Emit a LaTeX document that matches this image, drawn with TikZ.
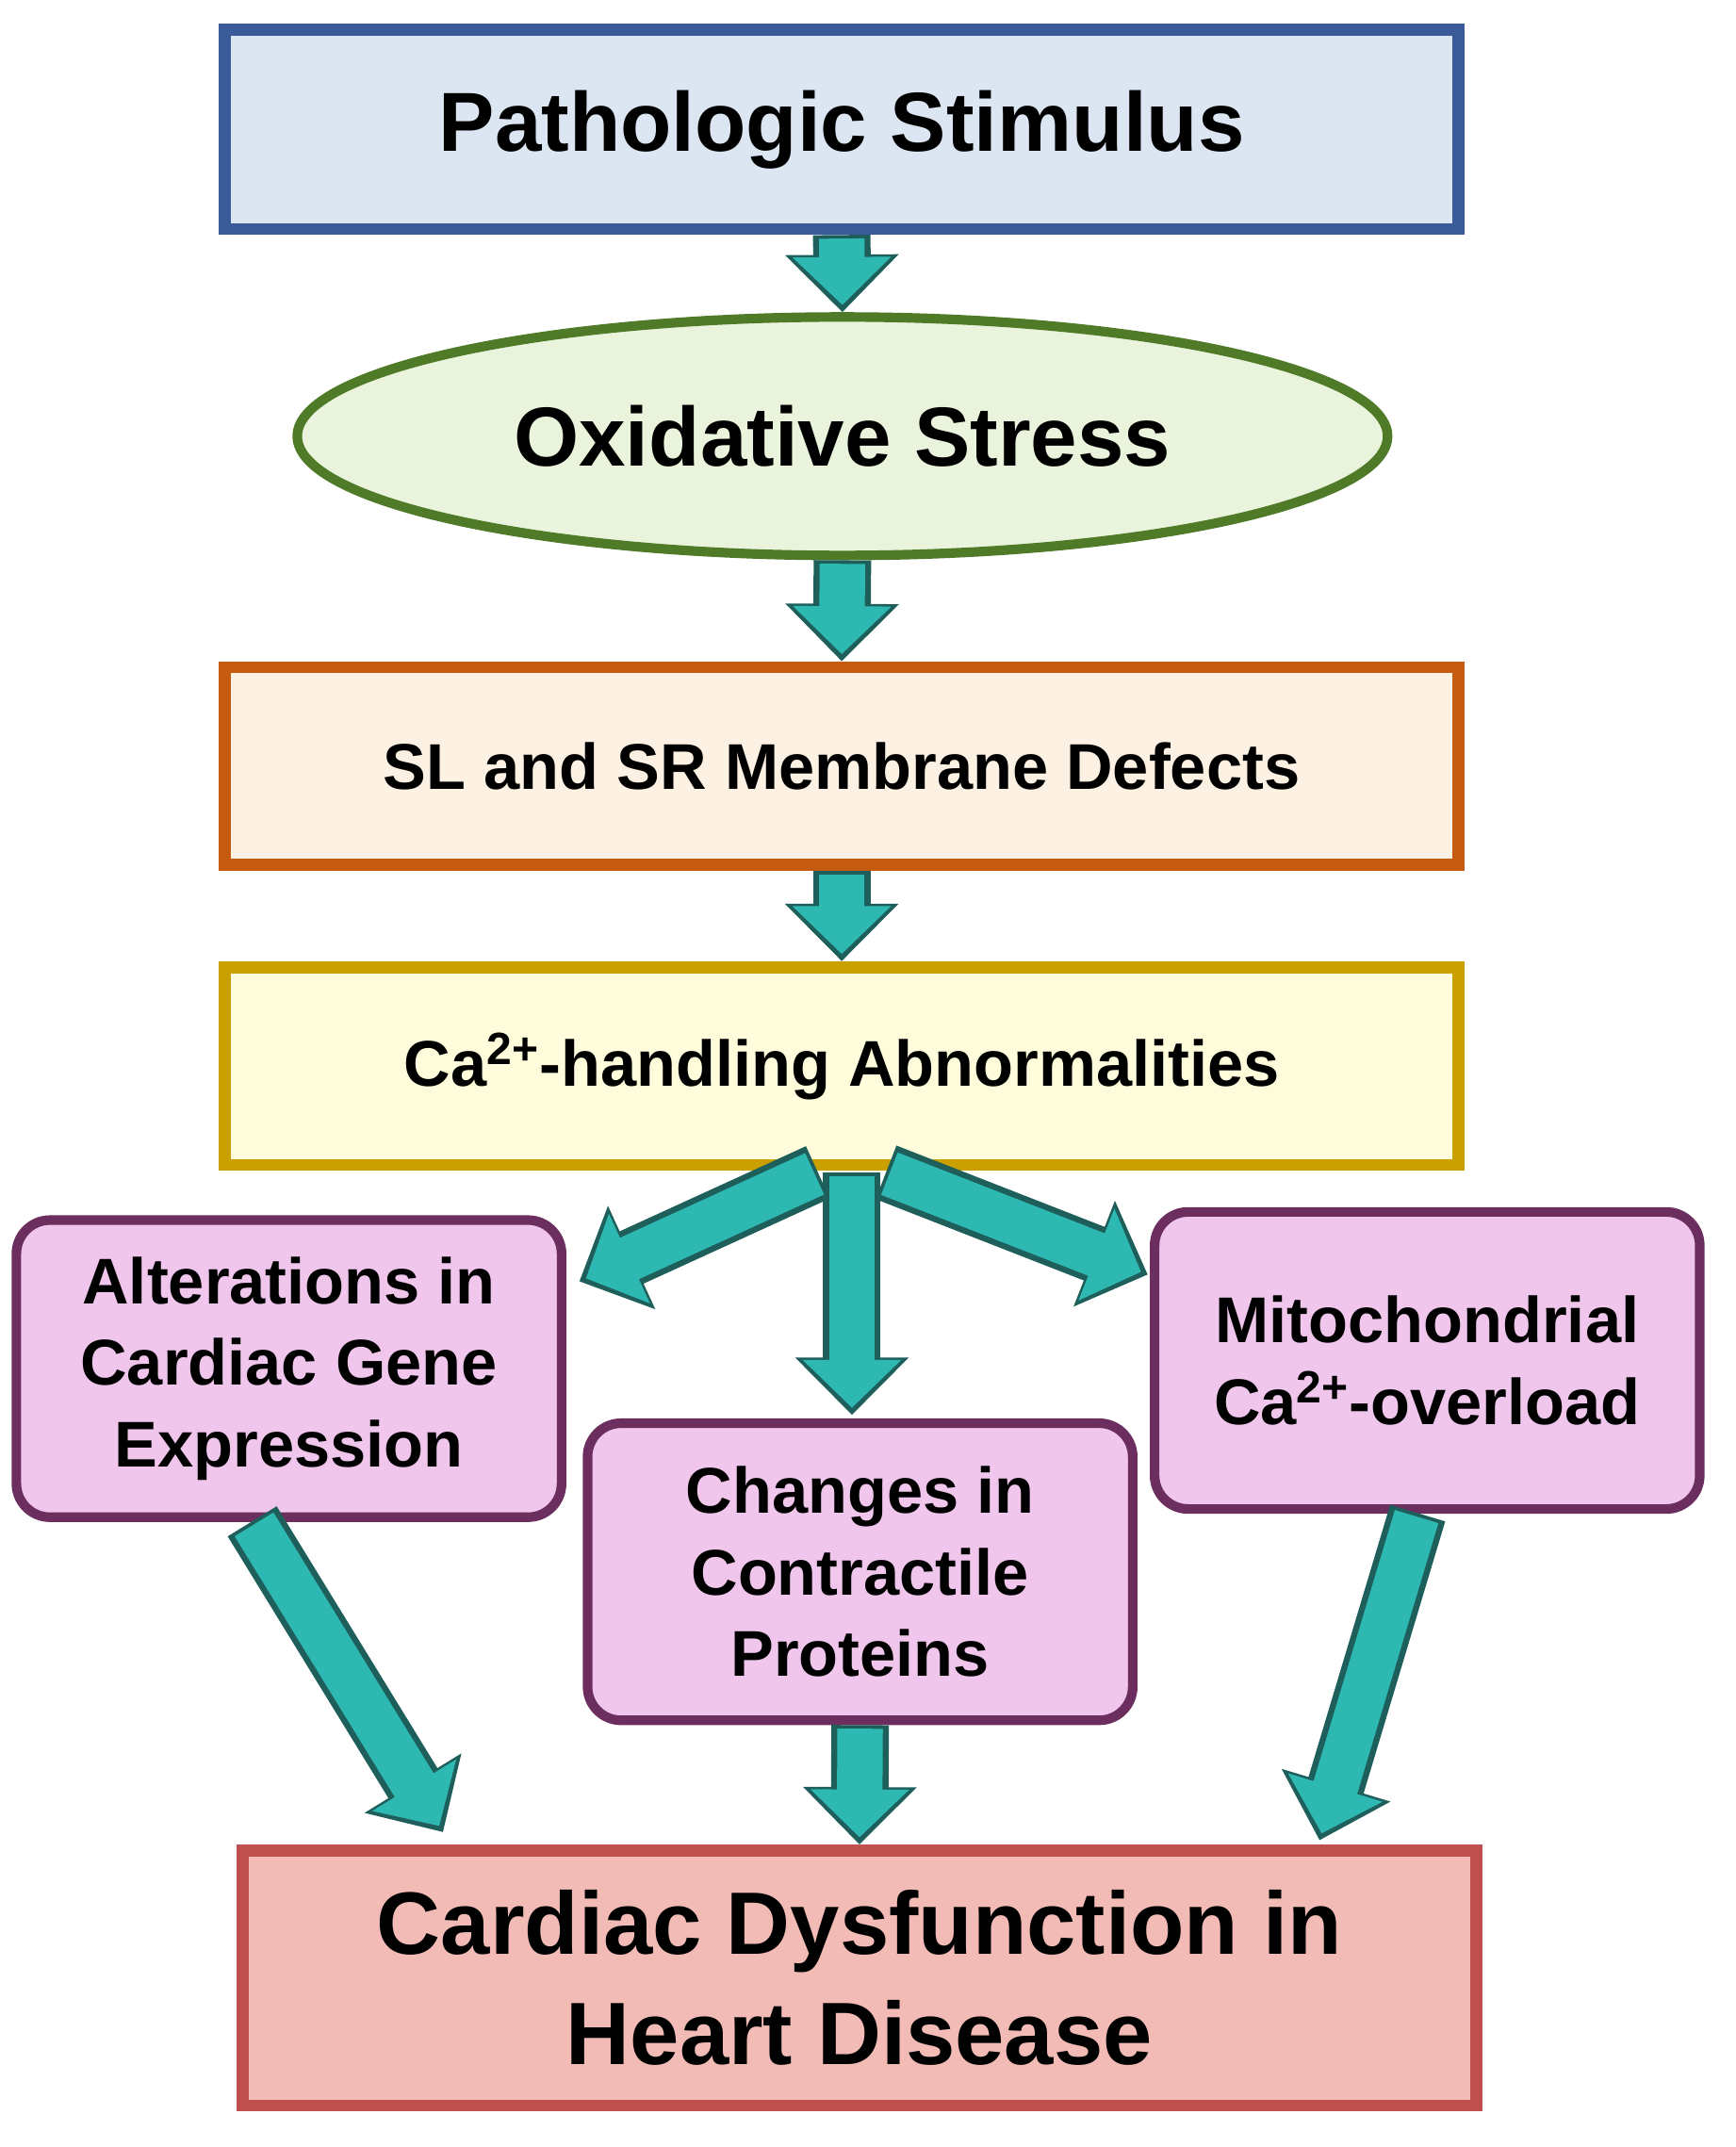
\documentclass[tikz,border=0pt]{standalone}
\usepackage{fontspec}
\setmainfont{Liberation Sans}
\usetikzlibrary{shapes.geometric,arrows.meta}
\definecolor{teal1}{HTML}{2DB8B2}
\definecolor{teal2}{HTML}{1E5F5C}
\begin{document}
\begin{tikzpicture}[x=0.02cm,y=-0.02cm,
 box/.style={draw, line width=5pt, inner sep=0pt, font=\bfseries},
 pbox/.style={draw=pb, fill=pf, line width=4pt, rounded corners=14pt, minimum width=8cm, minimum height=4.36cm, align=center, font=\bfseries\fontsize{27}{34}\selectfont},
 fat/.style={line width=24pt, -{Triangle[length=24pt,width=46pt]}, teal2, shorten >=0pt},
 fatin/.style={line width=19pt, -{Triangle[length=20pt,width=40pt]}, teal1, shorten >=3pt, shorten <=1.5pt}]
\definecolor{pb}{HTML}{6B2E5E}\definecolor{pf}{HTML}{F0C6EC}
\useasboundingbox (0,0) rectangle (1273,1575);
\node[box, draw={rgb,255:red,58;green,90;blue,152}, fill={rgb,255:red,220;green,230;blue,242}, minimum width=18.1cm, minimum height=2.92cm, font=\bfseries\fontsize{35}{40}\selectfont] (b1) at (617.5,95) {Pathologic Stimulus};
\node[ellipse, draw={rgb,255:red,79;green,122;blue,40}, fill={rgb,255:red,234;green,244;blue,220}, line width=4pt, minimum width=16cm, minimum height=3.5cm, font=\bfseries\fontsize{35}{40}\selectfont] (b2) at (618,320) {Oxidative Stress};
\node[box, draw={rgb,255:red,197;green,90;blue,17}, fill={rgb,255:red,253;green,241;blue,227}, minimum width=18.1cm, minimum height=2.9cm, font=\bfseries\fontsize{27}{32}\selectfont] (b3) at (617.5,562) {SL and SR Membrane Defects};
\node[box, draw={rgb,255:red,201;green,160;blue,0}, fill={rgb,255:red,254;green,252;blue,218}, minimum width=18.1cm, minimum height=2.9cm, font=\bfseries\fontsize{27}{32}\selectfont] (b4) at (617.5,782) {Ca\textsuperscript{2+}-handling Abnormalities};
\node[pbox] (l) at (212,1004) {Alterations in\\Cardiac Gene\\Expression};
\node[pbox] (m) at (631,1153) {Changes in\\Contractile\\Proteins};
\node[pbox] (r) at (1047,998) {Mitochondrial\\Ca\textsuperscript{2+}-overload};
\node[box, draw={rgb,255:red,192;green,80;blue,77}, fill={rgb,255:red,242;green,187;blue,181}, minimum width=18.1cm, minimum height=3.74cm, align=center, font=\bfseries\fontsize{37}{46}\selectfont] (b5) at (630.5,1451) {Cardiac Dysfunction in\\Heart Disease};
\coordinate (fl) at (600,860); \coordinate (fm) at (625,860); \coordinate (fr) at (650,860);
\coordinate (ft) at (425,940); \coordinate (mt) at (625,1038); \coordinate (rt) at (842,935);
\coordinate (ls) at (185,1116); \coordinate (le) at (325,1344);
\coordinate (rs) at (1040,1110); \coordinate (re) at (968,1350);
\foreach \a/\b in {b1.south/b2.north, b2.south/b3.north, b3.south/b4.north, fl/ft, fm/mt, fr/rt, ls/le, m.south/b5.north, rs/re}{
 \draw[fat] (\a) -- (\b);}
\foreach \a/\b in {b1.south/b2.north, b2.south/b3.north, b3.south/b4.north, fl/ft, fm/mt, fr/rt, ls/le, m.south/b5.north, rs/re}{
 \draw[fatin] (\a) -- (\b);}
\end{tikzpicture}
\end{document}
